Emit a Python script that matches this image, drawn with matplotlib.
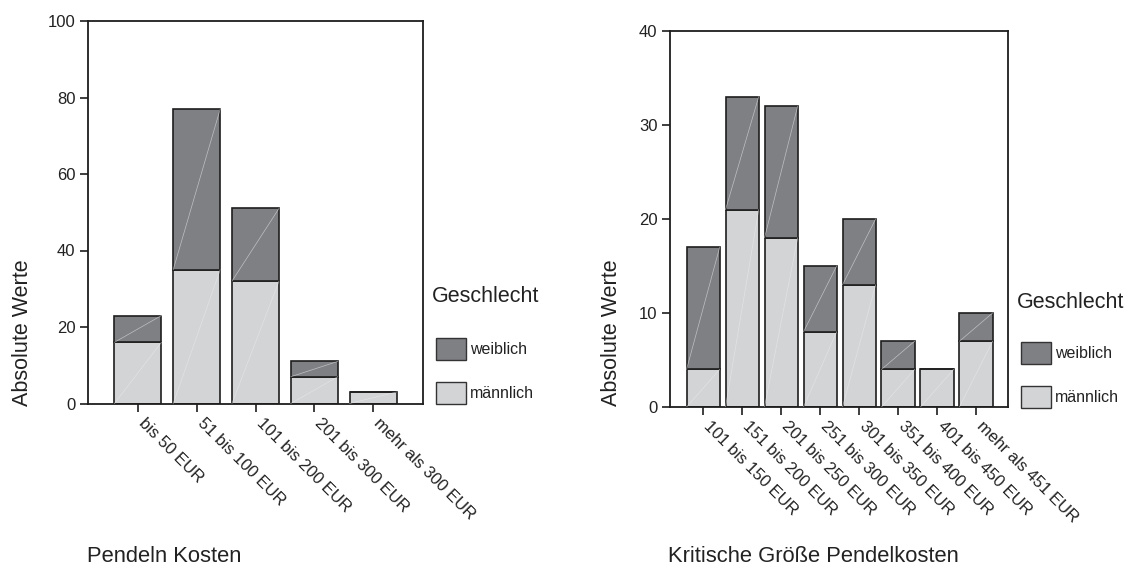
import matplotlib.pyplot as plt
from matplotlib.patches import Patch
import numpy as np

plt.rcParams['font.family'] = ['Liberation Sans', 'DejaVu Sans']

# Pendeln Kosten
costCats = ['bis 50 EUR', '51 bis 100 EUR', '101 bis 200 EUR',
            '201 bis 300 EUR', 'mehr als 300 EUR']
costMale = [16, 35, 32, 7, 3]
costFemale = [7, 42, 19, 4, 0]

# Kritische Größe Pendelkosten
critCats = ['101 bis 150 EUR', '151 bis 200 EUR', '201 bis 250 EUR',
            '251 bis 300 EUR', '301 bis 350 EUR', '351 bis 400 EUR',
            '401 bis 450 EUR', 'mehr als 451 EUR']
critMale = [4, 21, 18, 8, 13, 4, 4, 7]
critFemale = [13, 12, 14, 7, 7, 3, 0, 3]

DARK = '#7f8084'
LIGHT = '#d3d4d6'
EDGE = '#1e1e1e'
TXT = '#222222'
W, H = 1127, 568

fig = plt.figure(figsize=(W / 100, H / 100), dpi=100)


def px_axes(x0, y0, x1, y1):
    return fig.add_axes([x0 / W, 1 - y1 / H, (x1 - x0) / W, (y1 - y0) / H])


def draw_panel(ax, cats, male, female, ymax, ystep, width, xlim):
    x = np.arange(len(cats))
    ax.bar(x, male, width, color=LIGHT, edgecolor=EDGE, linewidth=1.2)
    ax.bar(x, female, width, bottom=male, color=DARK, edgecolor=EDGE, linewidth=1.2)
    # faint diagonal streaks visible in the original rendering
    for xi, m, f in zip(x, male, female):
        for b, h in ((0, m), (m, f)):
            if h > 0:
                ax.plot([xi - width / 2, xi + width / 2], [b, b + h],
                        color='#ececec', lw=0.5, alpha=0.6, zorder=3)
    ax.set_xlim(*xlim)
    ax.set_ylim(0, ymax)
    ax.set_yticks(np.arange(0, ymax + 1, ystep))
    ax.set_xticks(x)
    ax.set_xticklabels(cats, rotation=-45, ha='left', va='baseline',
                       rotation_mode='anchor', fontsize=12, color=TXT)
    ax.tick_params(axis='y', labelsize=12, labelcolor=TXT, length=6,
                   width=1.2, color=EDGE, pad=3)
    ax.tick_params(axis='x', length=6, width=1.2, color=EDGE, pad=8.5)
    for s in ax.spines.values():
        s.set_linewidth(1.3)
        s.set_color(EDGE)


ax1 = px_axes(88, 21, 423, 403.5)
draw_panel(ax1, costCats, costMale, costFemale, 100, 20, 0.8, (-0.85, 4.85))
ax2 = px_axes(670, 31, 1008, 407)
draw_panel(ax2, critCats, critMale, critFemale, 40, 10, 0.85, (-0.85, 7.82))

for xc in (23, 612):
    fig.text(xc / W, 1 - 406 / H, 'Absolute Werte', rotation=90, ha='center',
             va='bottom', fontsize=15.5, color=TXT)

fig.text(87 / W, 1 - 557 / H, 'Pendeln Kosten', ha='left', va='center',
         fontsize=15.8, color=TXT)
fig.text(668 / W, 1 - 557 / H, 'Kritische Größe Pendelkosten', ha='left',
         va='center', fontsize=15.8, color=TXT)

handles = [Patch(facecolor=DARK, edgecolor='#333333', label='weiblich'),
           Patch(facecolor=LIGHT, edgecolor='#333333', label='männlich')]
# (title x, title y, boxes x, boxes top) in pixels
for tx, ty, lx, ly in ((432, 297, 436, 338), (1017, 303, 1021, 342)):
    fig.text(tx / W, 1 - ty / H, 'Geschlecht', ha='left', va='center',
             fontsize=15.5, color=TXT)
    leg = fig.legend(handles=handles, loc='upper left',
                     bbox_to_anchor=(lx / W, 1 - ly / H), frameon=False,
                     fontsize=11.5, handlelength=1.85, handleheight=1.74,
                     handletextpad=0.25, labelspacing=1.38, borderpad=0,
                     borderaxespad=0)
    for t in leg.get_texts():
        t.set_color(TXT)

fig.savefig('out.png', dpi=100)
